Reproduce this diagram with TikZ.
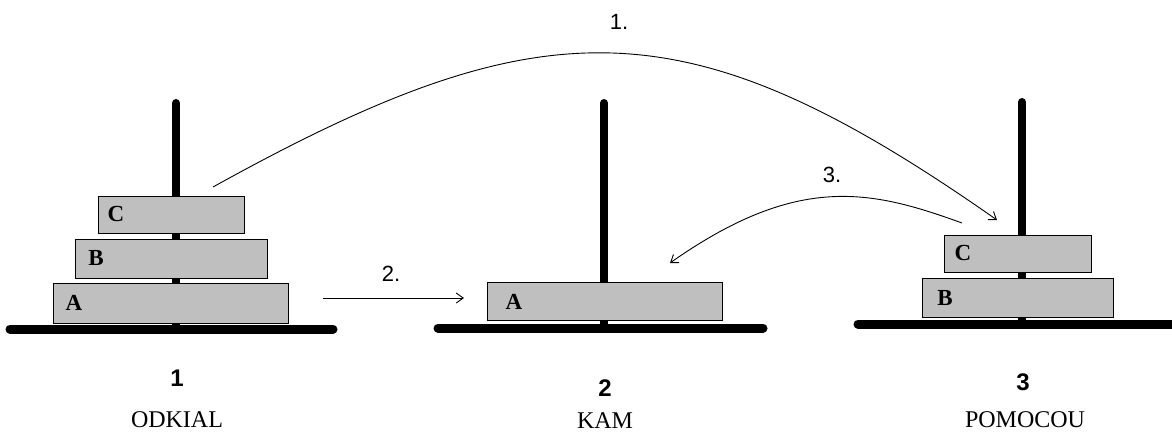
\documentclass[tikz,border=0pt]{standalone}
\usepackage{fontspec}
\setmainfont{Liberation Serif}
\newfontfamily\numfont{Liberation Sans}
\usetikzlibrary{arrows.meta}
\begin{document}
\begin{tikzpicture}[x=1pt,y=-1pt,
  peg/.style={line width=8pt,line cap=round},
  base/.style={line width=9pt,line cap=round},
  disk/.style={draw=black,line width=1.2pt,fill=black!25,inner sep=0pt,anchor=north west},
  dlabel/.style={font=\fontsize{23}{23}\selectfont\bfseries,inner sep=0pt},
  numlab/.style={font=\numfont\fontsize{24}{24}\selectfont\bfseries,inner sep=0pt},
  namelab/.style={font=\fontsize{24}{24}\selectfont,inner sep=0pt},
  steplab/.style={font=\numfont\fontsize{22}{22}\selectfont,inner sep=0pt},
  move/.style={line width=0.9pt,-{Straight Barb[length=7pt,width=10pt,line width=0.9pt]}}]
\useasboundingbox (0,0) rectangle (1172,432);
% pegs and bases
\coordinate (p1t) at (176,103); \coordinate (p1b) at (176,329);
\coordinate (p2t) at (604,103); \coordinate (p2b) at (604,328);
\coordinate (p3t) at (1022,102); \coordinate (p3b) at (1022,324);
\draw[peg] (p1t) -- (p1b);
\draw[peg] (p2t) -- (p2b);
\draw[peg] (p3t) -- (p3b);
\coordinate (b1l) at (10,329); \coordinate (b1r) at (333,329);
\coordinate (b2l) at (438,328); \coordinate (b2r) at (763,328);
\coordinate (b3l) at (858,324); \coordinate (b3r) at (1180,324);
\draw[base] (b1l) -- (b1r);
\draw[base] (b2l) -- (b2r);
\draw[base] (b3l) -- (b3r);
% disks peg 1
\node[disk,minimum width=146pt,minimum height=37pt] (c1) at (98,196) {};
\node[disk,minimum width=192pt,minimum height=39pt] (bb1) at (75,239) {};
\node[disk,minimum width=235pt,minimum height=40pt] (a1) at (53,283) {};
\node[dlabel] (lc1) at (116,214) {C};
\node[dlabel] (lb1) at (96,258) {B};
\node[dlabel] (la1) at (74,303) {A};
% disk peg 2
\node[disk,minimum width=235pt,minimum height=38pt] (a2) at (487,282) {};
\node[dlabel] (la2) at (514,302) {A};
% disks peg 3
\node[disk,minimum width=147pt,minimum height=37pt] (c3) at (944,235) {};
\node[disk,minimum width=191pt,minimum height=39pt] (bb3) at (922,278) {};
\node[dlabel] (lc3) at (963,253) {C};
\node[dlabel] (lb3) at (945,298) {B};
% bottom labels
\node[numlab] (n1) at (177,378) {1};
\node[numlab] (n2) at (605,388) {2};
\node[numlab] (n3) at (1023,382) {3};
\node[namelab] (t1) at (177,420) {ODKIAL};
\node[namelab] (t2) at (605,421) {KAM};
\node[namelab] (t3) at (1025,420) {POMOCOU};
% moves
\coordinate (m1s) at (213,187);
\coordinate (m1e) at (997,220);
\draw[move] (m1s) .. controls (545,3) and (687,3) .. (m1e);
\node[steplab] (s1) at (619,22) {1.};
\coordinate (m2s) at (323,298);
\coordinate (m2e) at (464,298);
\draw[move] (m2s) -- (m2e);
\node[steplab] (s2) at (391,274) {2.};
\coordinate (m3s) at (962,223);
\coordinate (m3e) at (670,263);
\draw[move] (m3s) .. controls (871,190) and (798,173) .. (m3e);
\node[steplab] (s3) at (832,175) {3.};
\end{tikzpicture}
\end{document}
